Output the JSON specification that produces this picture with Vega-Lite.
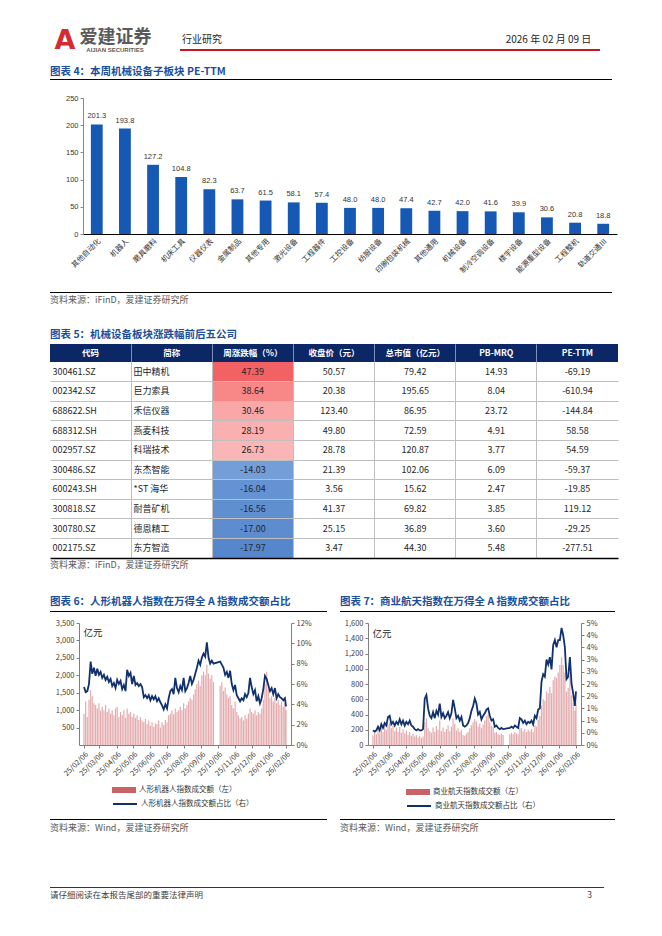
{
"$schema":"https://vega.github.io/schema/vega-lite/v6.json",
"padding":{"left":50,"top":20,"right":4,"bottom":4},
"background":"white",
"data":{"values":[{}]},
"datasets":{
"pe":[{"cat":"其他自动化","v":201.3},{"cat":"机器人","v":193.8},{"cat":"磨具磨料","v":127.2},{"cat":"机床工具","v":104.8},{"cat":"仪器仪表","v":82.3},{"cat":"金属制品","v":63.7},{"cat":"其他专用","v":61.5},{"cat":"激光设备","v":58.1},{"cat":"工程器件","v":57.4},{"cat":"工控设备","v":48.0},{"cat":"纺服设备","v":48.0},{"cat":"印刷包装机械","v":47.4},{"cat":"其他通用","v":42.7},{"cat":"机械设备","v":42.0},{"cat":"制冷空调设备","v":41.6},{"cat":"楼宇设备","v":39.9},{"cat":"能源重型设备","v":30.6},{"cat":"工程整机","v":20.8},{"cat":"轨道交通Ⅲ","v":18.8}],
"cols":[{"c":"代码"},{"c":"简称"},{"c":"周涨跌幅（%）"},{"c":"收盘价（元）"},{"c":"总市值（亿元）"},{"c":"PB-MRQ"},{"c":"PE-TTM"}],
"tbl":[
{"r":1,"代码":"300461.SZ","简称":"田中精机","周涨跌幅（%）":"47.39","收盘价（元）":"50.57","总市值（亿元）":"79.42","PB-MRQ":"14.93","PE-TTM":"-69.19","chg":47.39},
{"r":2,"代码":"002342.SZ","简称":"巨力索具","周涨跌幅（%）":"38.64","收盘价（元）":"20.38","总市值（亿元）":"195.65","PB-MRQ":"8.04","PE-TTM":"-610.94","chg":38.64},
{"r":3,"代码":"688622.SH","简称":"禾信仪器","周涨跌幅（%）":"30.46","收盘价（元）":"123.40","总市值（亿元）":"86.95","PB-MRQ":"23.72","PE-TTM":"-144.84","chg":30.46},
{"r":4,"代码":"688312.SH","简称":"燕麦科技","周涨跌幅（%）":"28.19","收盘价（元）":"49.80","总市值（亿元）":"72.59","PB-MRQ":"4.91","PE-TTM":"58.58","chg":28.19},
{"r":5,"代码":"002957.SZ","简称":"科瑞技术","周涨跌幅（%）":"26.73","收盘价（元）":"28.78","总市值（亿元）":"120.87","PB-MRQ":"3.77","PE-TTM":"54.59","chg":26.73},
{"r":6,"代码":"300486.SZ","简称":"东杰智能","周涨跌幅（%）":"-14.03","收盘价（元）":"21.39","总市值（亿元）":"102.06","PB-MRQ":"6.09","PE-TTM":"-59.37","chg":-14.03},
{"r":7,"代码":"600243.SH","简称":"*ST 海华","周涨跌幅（%）":"-16.04","收盘价（元）":"3.56","总市值（亿元）":"15.62","PB-MRQ":"2.47","PE-TTM":"-19.85","chg":-16.04},
{"r":8,"代码":"300818.SZ","简称":"耐普矿机","周涨跌幅（%）":"-16.56","收盘价（元）":"41.37","总市值（亿元）":"69.82","PB-MRQ":"3.85","PE-TTM":"119.12","chg":-16.56},
{"r":9,"代码":"300780.SZ","简称":"德恩精工","周涨跌幅（%）":"-17.00","收盘价（元）":"25.15","总市值（亿元）":"36.89","PB-MRQ":"3.60","PE-TTM":"-29.25","chg":-17.00},
{"r":10,"代码":"002175.SZ","简称":"东方智造","周涨跌幅（%）":"-17.97","收盘价（元）":"3.47","总市值（亿元）":"44.30","PB-MRQ":"5.48","PE-TTM":"-277.51","chg":-17.97}],
"hr":[
{"d":"2025-02-06","v":900,"p":5.7},{"d":"2025-02-09","v":1250,"p":5.2},{"d":"2025-02-12","v":800,"p":5.3},{"d":"2025-02-15","v":1300,"p":6.0},{"d":"2025-02-18","v":1580,"p":8.2},{"d":"2025-02-21","v":1400,"p":7.0},{"d":"2025-02-24","v":1200,"p":7.6},{"d":"2025-02-27","v":1150,"p":6.8},
{"d":"2025-03-02","v":1050,"p":7.5},{"d":"2025-03-05","v":1200,"p":6.9},{"d":"2025-03-08","v":980,"p":7.2},{"d":"2025-03-11","v":1100,"p":6.6},{"d":"2025-03-14","v":1000,"p":6.9},{"d":"2025-03-17","v":1150,"p":6.4},{"d":"2025-03-20","v":950,"p":6.7},{"d":"2025-03-23","v":1050,"p":6.2},{"d":"2025-03-26","v":900,"p":6.5},{"d":"2025-03-29","v":1000,"p":5.8},
{"d":"2025-04-01","v":850,"p":6.1},{"d":"2025-04-04","v":1050,"p":5.6},{"d":"2025-04-07","v":1100,"p":6.4},{"d":"2025-04-10","v":800,"p":6.0},{"d":"2025-04-13","v":950,"p":6.3},{"d":"2025-04-16","v":850,"p":5.5},{"d":"2025-04-19","v":1000,"p":5.9},{"d":"2025-04-22","v":780,"p":5.3},{"d":"2025-04-25","v":1050,"p":7.4},{"d":"2025-04-28","v":900,"p":6.8},
{"d":"2025-05-01","v":950,"p":7.1},{"d":"2025-05-04","v":800,"p":6.0},{"d":"2025-05-07","v":900,"p":6.8},{"d":"2025-05-10","v":780,"p":5.9},{"d":"2025-05-13","v":850,"p":6.1},{"d":"2025-05-16","v":720,"p":5.8},{"d":"2025-05-19","v":800,"p":6.0},{"d":"2025-05-22","v":700,"p":5.7},{"d":"2025-05-25","v":650,"p":4.7},{"d":"2025-05-28","v":750,"p":4.9},{"d":"2025-05-31","v":600,"p":4.6},
{"d":"2025-06-03","v":700,"p":4.9},{"d":"2025-06-06","v":550,"p":4.4},{"d":"2025-06-09","v":650,"p":4.8},{"d":"2025-06-12","v":520,"p":4.5},{"d":"2025-06-15","v":620,"p":4.8},{"d":"2025-06-18","v":600,"p":4.3},{"d":"2025-06-21","v":700,"p":4.6},{"d":"2025-06-24","v":500,"p":4.2},{"d":"2025-06-27","v":650,"p":3.9},{"d":"2025-06-30","v":580,"p":3.5},
{"d":"2025-07-03","v":720,"p":4.0},{"d":"2025-07-06","v":650,"p":3.6},{"d":"2025-07-09","v":850,"p":4.6},{"d":"2025-07-12","v":900,"p":5.3},{"d":"2025-07-15","v":1000,"p":5.5},{"d":"2025-07-18","v":880,"p":5.0},{"d":"2025-07-21","v":1050,"p":6.6},{"d":"2025-07-24","v":950,"p":5.6},{"d":"2025-07-27","v":1000,"p":5.2},{"d":"2025-07-30","v":1100,"p":5.8},
{"d":"2025-08-02","v":1000,"p":5.4},{"d":"2025-08-05","v":1200,"p":6.6},{"d":"2025-08-08","v":1050,"p":5.3},{"d":"2025-08-11","v":1150,"p":5.6},{"d":"2025-08-14","v":1250,"p":6.1},{"d":"2025-08-17","v":1350,"p":6.8},{"d":"2025-08-20","v":1300,"p":6.0},{"d":"2025-08-23","v":1450,"p":6.4},{"d":"2025-08-26","v":1600,"p":7.0},{"d":"2025-08-29","v":1750,"p":7.6},
{"d":"2025-09-01","v":1850,"p":8.3},{"d":"2025-09-04","v":1700,"p":7.9},{"d":"2025-09-07","v":2000,"p":8.6},{"d":"2025-09-10","v":2100,"p":9.0},{"d":"2025-09-13","v":2000,"p":8.7},{"d":"2025-09-16","v":2300,"p":10.1},{"d":"2025-09-19","v":2050,"p":8.6},{"d":"2025-09-22","v":1900,"p":8.0},{"d":"2025-09-25","v":2000,"p":8.3},{"d":"2025-09-28","v":1800,"p":8.0},
{"d":"2025-10-10","v":1700,"p":8.2},{"d":"2025-10-13","v":1800,"p":7.9},{"d":"2025-10-16","v":1550,"p":7.6},{"d":"2025-10-19","v":1650,"p":6.9},{"d":"2025-10-22","v":1450,"p":7.2},{"d":"2025-10-25","v":1350,"p":6.6},{"d":"2025-10-28","v":1400,"p":7.3},{"d":"2025-10-31","v":1150,"p":6.0},
{"d":"2025-11-03","v":1050,"p":5.4},{"d":"2025-11-06","v":1250,"p":5.9},{"d":"2025-11-09","v":950,"p":4.9},{"d":"2025-11-12","v":850,"p":4.6},{"d":"2025-11-15","v":750,"p":4.3},{"d":"2025-11-18","v":800,"p":4.6},{"d":"2025-11-21","v":700,"p":4.4},{"d":"2025-11-24","v":850,"p":5.0},{"d":"2025-11-27","v":750,"p":4.7},{"d":"2025-11-30","v":900,"p":5.1},
{"d":"2025-12-03","v":1050,"p":6.6},{"d":"2025-12-06","v":950,"p":5.7},{"d":"2025-12-09","v":900,"p":5.0},{"d":"2025-12-12","v":1000,"p":5.4},{"d":"2025-12-15","v":850,"p":4.3},{"d":"2025-12-18","v":950,"p":4.8},{"d":"2025-12-21","v":900,"p":4.1},{"d":"2025-12-24","v":1050,"p":4.6},{"d":"2025-12-27","v":1300,"p":5.5},{"d":"2025-12-30","v":1750,"p":6.8},
{"d":"2026-01-02","v":2100,"p":6.5},{"d":"2026-01-05","v":1600,"p":5.9},{"d":"2026-01-08","v":1350,"p":5.3},{"d":"2026-01-11","v":1400,"p":5.6},{"d":"2026-01-14","v":1250,"p":5.0},{"d":"2026-01-17","v":1350,"p":5.6},{"d":"2026-01-20","v":1200,"p":4.6},{"d":"2026-01-23","v":1300,"p":5.0},{"d":"2026-01-26","v":1150,"p":4.7},{"d":"2026-01-29","v":1250,"p":4.6},
{"d":"2026-02-01","v":1100,"p":4.4},{"d":"2026-02-04","v":1200,"p":4.6},{"d":"2026-02-06","v":1000,"p":3.8}],
"sp":[
{"d":"2025-02-06","v":120,"p":0.6},{"d":"2025-02-09","v":180,"p":0.55},{"d":"2025-02-12","v":140,"p":0.6},{"d":"2025-02-15","v":200,"p":0.75},{"d":"2025-02-18","v":150,"p":0.6},{"d":"2025-02-21","v":230,"p":0.85},{"d":"2025-02-24","v":170,"p":0.7},{"d":"2025-02-27","v":260,"p":0.9},
{"d":"2025-03-02","v":200,"p":0.8},{"d":"2025-03-05","v":280,"p":1.15},{"d":"2025-03-08","v":300,"p":1.2},{"d":"2025-03-11","v":220,"p":0.85},{"d":"2025-03-14","v":250,"p":0.95},{"d":"2025-03-17","v":180,"p":0.8},{"d":"2025-03-20","v":230,"p":0.95},{"d":"2025-03-23","v":170,"p":0.85},{"d":"2025-03-26","v":240,"p":1.05},{"d":"2025-03-29","v":160,"p":0.85},
{"d":"2025-04-01","v":210,"p":1.0},{"d":"2025-04-04","v":150,"p":0.8},{"d":"2025-04-07","v":190,"p":0.95},{"d":"2025-04-10","v":130,"p":0.85},{"d":"2025-04-13","v":170,"p":1.0},{"d":"2025-04-16","v":120,"p":0.8},{"d":"2025-04-19","v":150,"p":0.75},{"d":"2025-04-22","v":110,"p":0.65},{"d":"2025-04-25","v":130,"p":0.6},{"d":"2025-04-28","v":100,"p":0.65},
{"d":"2025-05-01","v":120,"p":0.6},{"d":"2025-05-04","v":90,"p":0.6},{"d":"2025-05-07","v":110,"p":0.65},{"d":"2025-05-10","v":300,"p":1.9},{"d":"2025-05-13","v":350,"p":2.05},{"d":"2025-05-16","v":220,"p":1.5},{"d":"2025-05-19","v":180,"p":1.2},{"d":"2025-05-22","v":160,"p":1.1},{"d":"2025-05-25","v":230,"p":1.35},{"d":"2025-05-28","v":170,"p":1.1},{"d":"2025-05-31","v":250,"p":1.4},
{"d":"2025-06-03","v":200,"p":1.25},{"d":"2025-06-06","v":320,"p":1.7},{"d":"2025-06-09","v":180,"p":1.15},{"d":"2025-06-12","v":230,"p":1.3},{"d":"2025-06-15","v":170,"p":1.1},{"d":"2025-06-18","v":210,"p":1.2},{"d":"2025-06-21","v":260,"p":1.35},{"d":"2025-06-24","v":180,"p":1.1},{"d":"2025-06-27","v":240,"p":1.3},{"d":"2025-06-30","v":350,"p":1.85},
{"d":"2025-07-03","v":280,"p":1.5},{"d":"2025-07-06","v":190,"p":1.1},{"d":"2025-07-09","v":220,"p":1.2},{"d":"2025-07-12","v":170,"p":1.0},{"d":"2025-07-15","v":200,"p":1.15},{"d":"2025-07-18","v":130,"p":0.8},{"d":"2025-07-21","v":120,"p":0.75},{"d":"2025-07-24","v":150,"p":0.8},{"d":"2025-07-27","v":170,"p":0.9},{"d":"2025-07-30","v":220,"p":1.1},
{"d":"2025-08-02","v":260,"p":1.4},{"d":"2025-08-05","v":300,"p":1.6},{"d":"2025-08-08","v":340,"p":1.9},{"d":"2025-08-11","v":310,"p":1.7},{"d":"2025-08-14","v":240,"p":1.25},{"d":"2025-08-17","v":280,"p":1.35},{"d":"2025-08-20","v":220,"p":1.05},{"d":"2025-08-23","v":270,"p":1.2},{"d":"2025-08-26","v":320,"p":1.3},{"d":"2025-08-29","v":380,"p":1.45},
{"d":"2025-09-01","v":400,"p":1.5},{"d":"2025-09-04","v":300,"p":1.2},{"d":"2025-09-07","v":250,"p":1.0},{"d":"2025-09-10","v":240,"p":1.05},{"d":"2025-09-13","v":160,"p":0.75},{"d":"2025-09-16","v":170,"p":0.8},{"d":"2025-09-19","v":140,"p":0.7},{"d":"2025-09-22","v":130,"p":0.65},{"d":"2025-09-25","v":150,"p":0.7},{"d":"2025-09-28","v":130,"p":0.65},
{"d":"2025-10-10","v":140,"p":0.7},{"d":"2025-10-13","v":160,"p":0.75},{"d":"2025-10-16","v":140,"p":0.7},{"d":"2025-10-19","v":170,"p":0.8},{"d":"2025-10-22","v":150,"p":0.75},{"d":"2025-10-25","v":140,"p":0.7},{"d":"2025-10-28","v":230,"p":1.1},{"d":"2025-10-31","v":220,"p":1.05},
{"d":"2025-11-03","v":180,"p":0.9},{"d":"2025-11-06","v":210,"p":1.0},{"d":"2025-11-09","v":170,"p":0.85},{"d":"2025-11-12","v":200,"p":0.95},{"d":"2025-11-15","v":180,"p":0.9},{"d":"2025-11-18","v":210,"p":1.0},{"d":"2025-11-21","v":170,"p":0.85},{"d":"2025-11-24","v":260,"p":1.2},{"d":"2025-11-27","v":240,"p":1.1},{"d":"2025-11-30","v":330,"p":1.45},
{"d":"2025-12-03","v":380,"p":1.5},{"d":"2025-12-06","v":520,"p":2.6},{"d":"2025-12-09","v":600,"p":2.9},{"d":"2025-12-12","v":580,"p":2.8},{"d":"2025-12-15","v":700,"p":3.5},{"d":"2025-12-18","v":680,"p":3.3},{"d":"2025-12-21","v":760,"p":3.6},{"d":"2025-12-24","v":680,"p":3.1},{"d":"2025-12-27","v":850,"p":4.1},{"d":"2025-12-30","v":900,"p":4.3},
{"d":"2026-01-02","v":880,"p":4.0},{"d":"2026-01-05","v":950,"p":4.3},{"d":"2026-01-08","v":1050,"p":4.3},{"d":"2026-01-11","v":1150,"p":4.8},{"d":"2026-01-14","v":1050,"p":4.5},{"d":"2026-01-17","v":950,"p":4.0},{"d":"2026-01-20","v":700,"p":2.7},{"d":"2026-01-23","v":750,"p":2.8},{"d":"2026-01-26","v":900,"p":3.6},{"d":"2026-01-29","v":650,"p":2.5},
{"d":"2026-02-01","v":550,"p":2.1},{"d":"2026-02-04","v":450,"p":1.6},{"d":"2026-02-06","v":550,"p":2.2}]
},
"bounds":"flush",
"spacing":0,
"center":false,
"resolve":{"scale":{"color":"independent","stroke":"independent","x":"independent","y":"independent"},"legend":{"color":"independent","stroke":"independent"}},
"vconcat":[
{"width":1,"height":10,"mark":{"type":"rect","opacity":0},"encoding":{}},
{"bounds":"flush","spacing":0,"hconcat":[
 {"width":30,"height":21,"mark":{"type":"text","text":"A","font":"DejaVu Sans","fontSize":27,"fontWeight":"bold","color":"#d42a30","baseline":"middle"},"encoding":{}},
 {"width":71,"height":16,"mark":{"type":"text","text":"爱建证券","fontSize":18,"fontWeight":"bold","color":"#5a5a5a","baseline":"middle"},"encoding":{}},
 {"width":62,"height":20,"mark":{"type":"text","text":"行业研究","fontSize":10,"color":"#262626","align":"left","baseline":"middle"},"encoding":{}},
 {"width":292,"height":1,"mark":{"type":"rect","opacity":0},"encoding":{}},
 {"width":87,"height":20,"mark":{"type":"text","text":"2026 年 02 月 09 日","fontSize":10,"color":"#262626","baseline":"middle"},"encoding":{}}
]},
{"width":1,"height":19,"mark":{"type":"rect","opacity":0},"encoding":{}},
{"bounds":"flush","spacing":0,"hconcat":[
 {"width":130,"height":2,"mark":{"type":"text","text":"AIJIAN SECURITIES","font":"Liberation Sans","fontSize":6,"fontWeight":"bold","color":"#5a5a5a","baseline":"middle"},"encoding":{}},
 {"width":420,"height":2,"mark":{"type":"rect","color":"#c8161e"},"encoding":{}}
]},
{"width":1,"height":30,"mark":{"type":"rect","opacity":0},"encoding":{}},
{"width":562,"height":1,"mark":{"type":"rect","color":"#000000"},"encoding":{},"title":{"text":"图表 4：本周机械设备子板块 PE-TTM","anchor":"start","frame":"group","orient":"top","offset":2,"fontSize":10.5,"fontWeight":"bold","color":"#1b4f9c"}},
{"width":1,"height":18,"mark":{"type":"rect","opacity":0},"encoding":{}},
{"bounds":"flush","spacing":0,"hconcat":[
 {"width":33,"height":136,"mark":{"type":"rect","opacity":0},"encoding":{}},
 {"width":534,"height":136,"data":{"name":"pe"},
  "encoding":{
   "x":{"field":"cat","type":"nominal","sort":null,"scale":{"paddingInner":0.58,"paddingOuter":0.28},"axis":{"title":null,"labelAngle":-45,"labelFontSize":7.5,"labelColor":"#333333","domainColor":"#000000","ticks":false,"labelPadding":3}},
   "y":{"field":"v","type":"quantitative","scale":{"domain":[0,250]},"axis":{"title":null,"values":[0,50,100,150,200,250],"grid":false,"labelFontSize":7.5,"labelFont":"Liberation Sans","labelColor":"#333333","domainColor":"#888888","tickColor":"#888888","tickSize":3,"labelFlush":false}}},
  "layer":[
   {"mark":{"type":"bar","color":"#1559b5"}},
   {"mark":{"type":"text","baseline":"bottom","dy":-4,"fontSize":7.5,"font":"Liberation Sans","color":"#333333"},"encoding":{"text":{"field":"v","type":"quantitative","format":".1f"}}}
  ]}
]},
{"width":1,"height":194,"mark":{"type":"rect","opacity":0},"encoding":{}},
{"width":562,"height":1,"mark":{"type":"rect","color":"#000000"},"encoding":{},"title":{"text":"资料来源：iFinD，爱建证券研究所","anchor":"start","frame":"group","orient":"bottom","offset":3,"fontSize":9,"fontWeight":"normal","color":"#595959"}},
{"width":1,"height":51,"mark":{"type":"rect","opacity":0},"encoding":{}},
{"width":568,"height":18,"data":{"name":"cols"},
 "title":{"text":"图表 5：机械设备板块涨跌幅前后五公司","anchor":"start","frame":"group","orient":"top","offset":4,"fontSize":10.5,"fontWeight":"bold","color":"#1b4f9c"},
 "encoding":{"x":{"field":"c","type":"nominal","sort":null,"scale":{"paddingInner":0,"paddingOuter":0},"axis":{"title":null,"labels":false,"ticks":false,"domain":false,"grid":true,"bandPosition":0,"zindex":1,"gridColor":{"condition":{"test":"datum.value === '代码'","value":"transparent"},"value":"#7f8fb5"}}}},
 "layer":[
  {"mark":{"type":"rect","color":"#0b2766"}},
  {"mark":{"type":"text","color":"#ffffff","fontSize":8.5,"fontWeight":"bold","baseline":"middle"},"encoding":{"text":{"field":"c"}}}
 ]},
{"width":568,"height":196,"data":{"name":"tbl"},
 "title":{"text":"资料来源：iFinD，爱建证券研究所","anchor":"start","frame":"group","orient":"bottom","offset":3,"fontSize":9,"fontWeight":"normal","color":"#595959"},
 "transform":[{"fold":["代码","简称","周涨跌幅（%）","收盘价（元）","总市值（亿元）","PB-MRQ","PE-TTM"]}],
 "encoding":{
  "x":{"field":"key","type":"nominal","sort":["代码","简称","周涨跌幅（%）","收盘价（元）","总市值（亿元）","PB-MRQ","PE-TTM"],"scale":{"paddingInner":0,"paddingOuter":0},"axis":{"title":null,"labels":false,"ticks":false,"domain":true,"domainColor":"#000000","domainWidth":1.5,"grid":true,"bandPosition":0,"zindex":1,"gridColor":{"condition":{"test":"datum.value === '代码'","value":"transparent"},"value":"#bfbfbf"}}},
  "y":{"field":"r","type":"ordinal","scale":{"paddingInner":0,"paddingOuter":0},"axis":{"title":null,"labels":false,"ticks":false,"domain":false,"grid":true,"bandPosition":1,"zindex":1,"gridColor":{"condition":{"test":"datum.value === 10","value":"transparent"},"value":"#bfbfbf"}}}},
 "layer":[
  {"transform":[{"filter":"datum.key === '周涨跌幅（%）'"}],"mark":{"type":"rect"},"encoding":{"color":{"field":"chg","type":"quantitative","scale":{"domain":[-17.97,-14.03,26.73,47.39],"range":["#5686cc","#739ed8","#fab5b6","#f26265"]},"legend":null}}},
  {"transform":[{"filter":"datum.key === '代码' || datum.key === '简称'"}],"mark":{"type":"text","align":"left","baseline":"middle","fontSize":9,"color":"#262626"},"encoding":{"x":{"field":"key","type":"nominal","sort":["代码","简称","周涨跌幅（%）","收盘价（元）","总市值（亿元）","PB-MRQ","PE-TTM"],"bandPosition":0.03},"text":{"field":"value"}}},
  {"transform":[{"filter":"datum.key !== '代码' && datum.key !== '简称'"}],"mark":{"type":"text","baseline":"middle","fontSize":9,"color":"#262626"},"encoding":{"text":{"field":"value"}}}
 ]},
{"width":1,"height":53,"mark":{"type":"rect","opacity":0},"encoding":{}},
{"bounds":"flush","spacing":0,"hconcat":[
 {"width":277,"height":1,"mark":{"type":"rect","color":"#000000"},"encoding":{},"title":{"text":"图表 6：人形机器人指数在万得全 A 指数成交额占比","anchor":"start","frame":"group","orient":"top","offset":4,"fontSize":10.5,"fontWeight":"bold","color":"#1b4f9c"}},
 {"width":13,"height":1,"mark":{"type":"rect","opacity":0},"encoding":{}},
 {"width":275,"height":1,"mark":{"type":"rect","color":"#000000"},"encoding":{},"title":{"text":"图表 7：商业航天指数在万得全 A 指数成交额占比","anchor":"start","frame":"group","orient":"top","offset":4,"fontSize":10.5,"fontWeight":"bold","color":"#1b4f9c"}}
]},
{"width":1,"height":12,"mark":{"type":"rect","opacity":0},"encoding":{}},
{"bounds":"flush","spacing":0,
 "resolve":{"scale":{"color":"independent","stroke":"independent","x":"independent","y":"independent"},"legend":{"color":"independent","stroke":"independent"}},
 "hconcat":[
 {"width":29,"height":122,"mark":{"type":"rect","opacity":0},"encoding":{}},
 {"width":212,"height":122,"data":{"name":"hr"},
  "encoding":{
   "x":{"field":"d","type":"temporal","scale":{"type":"utc","domain":[{"year":2025,"month":2,"date":6,"utc":true},{"year":2026,"month":2,"date":6,"utc":true}]},
    "axis":{"title":null,"format":"%y/%m/%d","labelAngle":-45,"labelFontSize":7.5,"labelColor":"#404040","labelOverlap":false,"labelFlush":false,"labelPadding":2,"domainColor":"#7f7f7f","tickColor":"#7f7f7f","tickSize":3,"grid":false,
     "values":[{"year":2025,"month":2,"date":6,"utc":true},{"year":2025,"month":3,"date":6,"utc":true},{"year":2025,"month":4,"date":6,"utc":true},{"year":2025,"month":5,"date":6,"utc":true},{"year":2025,"month":6,"date":6,"utc":true},{"year":2025,"month":7,"date":6,"utc":true},{"year":2025,"month":8,"date":6,"utc":true},{"year":2025,"month":9,"date":6,"utc":true},{"year":2025,"month":10,"date":6,"utc":true},{"year":2025,"month":11,"date":6,"utc":true},{"year":2025,"month":12,"date":6,"utc":true},{"year":2026,"month":1,"date":6,"utc":true},{"year":2026,"month":2,"date":6,"utc":true}]}}},
  "layer":[
   {"mark":{"type":"bar","size":1.2,"opacity":0.45},
    "encoding":{
     "y":{"field":"v","type":"quantitative","scale":{"domain":[0,3500]},"axis":{"title":"亿元","titleAngle":0,"titleAlign":"left","titleBaseline":"middle","titleX":4,"titleY":9,"titleFontSize":9.5,"titleFontWeight":"normal","titleColor":"#262626","values":[500,1000,1500,2000,2500,3000,3500],"format":",.0f","labelFontSize":7.5,"labelColor":"#404040","labelFlush":false,"grid":false,"domainColor":"#7f7f7f","tickColor":"#7f7f7f","tickSize":3}},
     "color":{"datum":"人形机器人指数成交额（左）","type":"nominal","scale":{"range":["#c0454b"]},"legend":{"orient":"none","legendX":33,"legendY":155,"title":null,"padding":0,"symbolType":"M-1,-0.25H1V0.25H-1Z","symbolSize":576,"symbolOpacity":0.85,"symbolStrokeWidth":0,"labelFontSize":7.5,"labelColor":"#333333","labelOffset":3}}}},
   {"mark":{"type":"line","strokeWidth":1.8},
    "encoding":{
     "y":{"field":"p","type":"quantitative","scale":{"domain":[0,12]},"axis":{"orient":"right","title":null,"values":[0,2,4,6,8,10,12],"labelExpr":"datum.value + '%'","labelFontSize":7.5,"labelColor":"#404040","labelFlush":false,"grid":false,"domainColor":"#7f7f7f","tickColor":"#7f7f7f","tickSize":3}},
     "stroke":{"datum":"人形机器人指数成交额占比（右）","type":"nominal","scale":{"range":["#10306e"]},"legend":{"orient":"none","legendX":33,"legendY":168,"title":null,"padding":0,"symbolType":"stroke","symbolSize":576,"symbolStrokeWidth":2,"labelFontSize":7.5,"labelColor":"#333333","labelOffset":3}}}}
  ],
  "resolve":{"scale":{"y":"independent"}}},
 {"width":77,"height":122,"mark":{"type":"rect","opacity":0},"encoding":{}},
 {"width":213,"height":122,"data":{"name":"sp"},
  "encoding":{
   "x":{"field":"d","type":"temporal","scale":{"type":"utc","domain":[{"year":2025,"month":2,"date":6,"utc":true},{"year":2026,"month":2,"date":6,"utc":true}]},
    "axis":{"title":null,"format":"%y/%m/%d","labelAngle":-45,"labelFontSize":7.5,"labelColor":"#404040","labelOverlap":false,"labelFlush":false,"labelPadding":2,"domainColor":"#7f7f7f","tickColor":"#7f7f7f","tickSize":3,"grid":false,
     "values":[{"year":2025,"month":2,"date":6,"utc":true},{"year":2025,"month":3,"date":6,"utc":true},{"year":2025,"month":4,"date":6,"utc":true},{"year":2025,"month":5,"date":6,"utc":true},{"year":2025,"month":6,"date":6,"utc":true},{"year":2025,"month":7,"date":6,"utc":true},{"year":2025,"month":8,"date":6,"utc":true},{"year":2025,"month":9,"date":6,"utc":true},{"year":2025,"month":10,"date":6,"utc":true},{"year":2025,"month":11,"date":6,"utc":true},{"year":2025,"month":12,"date":6,"utc":true},{"year":2026,"month":1,"date":6,"utc":true},{"year":2026,"month":2,"date":6,"utc":true}]}}},
  "layer":[
   {"mark":{"type":"bar","size":1.2,"opacity":0.45},
    "encoding":{
     "y":{"field":"v","type":"quantitative","scale":{"domain":[0,1600]},"axis":{"title":"亿元","titleAngle":0,"titleAlign":"left","titleBaseline":"middle","titleX":4,"titleY":10,"titleFontSize":9.5,"titleFontWeight":"normal","titleColor":"#262626","values":[0,200,400,600,800,1000,1200,1400,1600],"format":",.0f","labelFontSize":7.5,"labelColor":"#404040","labelFlush":false,"grid":false,"domainColor":"#7f7f7f","tickColor":"#7f7f7f","tickSize":3}},
     "color":{"datum":"商业航天指数成交额（左）","type":"nominal","scale":{"range":["#c0454b"]},"legend":{"orient":"none","legendX":38,"legendY":157,"title":null,"padding":0,"symbolType":"M-1,-0.25H1V0.25H-1Z","symbolSize":576,"symbolOpacity":0.85,"symbolStrokeWidth":0,"labelFontSize":7.5,"labelColor":"#333333","labelOffset":3}}}},
   {"mark":{"type":"line","strokeWidth":1.8},
    "encoding":{
     "y":{"field":"p","type":"quantitative","scale":{"domain":[0,5]},"axis":{"orient":"right","title":null,"values":[0,0.5,1,1.5,2,2.5,3,3.5,4,4.5,5],"labelExpr":"floor(datum.value) + '%'","labelFontSize":7.5,"labelColor":"#404040","labelFlush":false,"grid":false,"domainColor":"#7f7f7f","tickColor":"#7f7f7f","tickSize":3}},
     "stroke":{"datum":"商业航天指数成交额占比（右）","type":"nominal","scale":{"range":["#10306e"]},"legend":{"orient":"none","legendX":38,"legendY":170,"title":null,"padding":0,"symbolType":"stroke","symbolSize":576,"symbolStrokeWidth":2,"labelFontSize":7.5,"labelColor":"#333333","labelOffset":3}}}}
  ],
  "resolve":{"scale":{"y":"independent"}}}
]},
{"width":1,"height":196,"mark":{"type":"rect","opacity":0},"encoding":{}},
{"bounds":"flush","spacing":0,"hconcat":[
 {"width":277,"height":1,"mark":{"type":"rect","color":"#000000"},"encoding":{},"title":{"text":"资料来源：Wind，爱建证券研究所","anchor":"start","frame":"group","orient":"bottom","offset":4,"fontSize":9,"fontWeight":"normal","color":"#595959"}},
 {"width":13,"height":1,"mark":{"type":"rect","opacity":0},"encoding":{}},
 {"width":275,"height":1,"mark":{"type":"rect","color":"#000000"},"encoding":{},"title":{"text":"资料来源：Wind，爱建证券研究所","anchor":"start","frame":"group","orient":"bottom","offset":4,"fontSize":9,"fontWeight":"normal","color":"#595959"}}
]},
{"width":1,"height":68,"mark":{"type":"rect","opacity":0},"encoding":{}},
{"bounds":"flush","spacing":0,"hconcat":[
 {"width":300,"height":1,"mark":{"type":"rect","color":"#1f3864"},"encoding":{},"title":{"text":"请仔细阅读在本报告尾部的重要法律声明","anchor":"start","frame":"group","orient":"bottom","offset":3,"fontSize":8.5,"fontWeight":"normal","color":"#404040"}},
 {"width":242,"height":1,"mark":{"type":"rect","color":"#1f3864"},"encoding":{},"title":{"text":"3","anchor":"end","frame":"group","orient":"bottom","offset":3,"fontSize":8.5,"fontWeight":"normal","color":"#404040"}},
 {"width":12,"height":1,"mark":{"type":"rect","color":"#1f3864"},"encoding":{}}
]},
{"width":1,"height":1,"mark":{"type":"rect","opacity":0},"encoding":{}}
],
"config":{
 "view":{"stroke":null},
 "font":"Noto Sans CJK SC",
 "title":{"font":"Noto Sans CJK SC"},
 "axis":{"labelFont":"Noto Sans CJK SC","titleFont":"Noto Sans CJK SC"},
 "axisX":{"labelOverlap":false},
 "legend":{"labelFont":"Noto Sans CJK SC"},
 "text":{"font":"Noto Sans CJK SC"}
}
}
